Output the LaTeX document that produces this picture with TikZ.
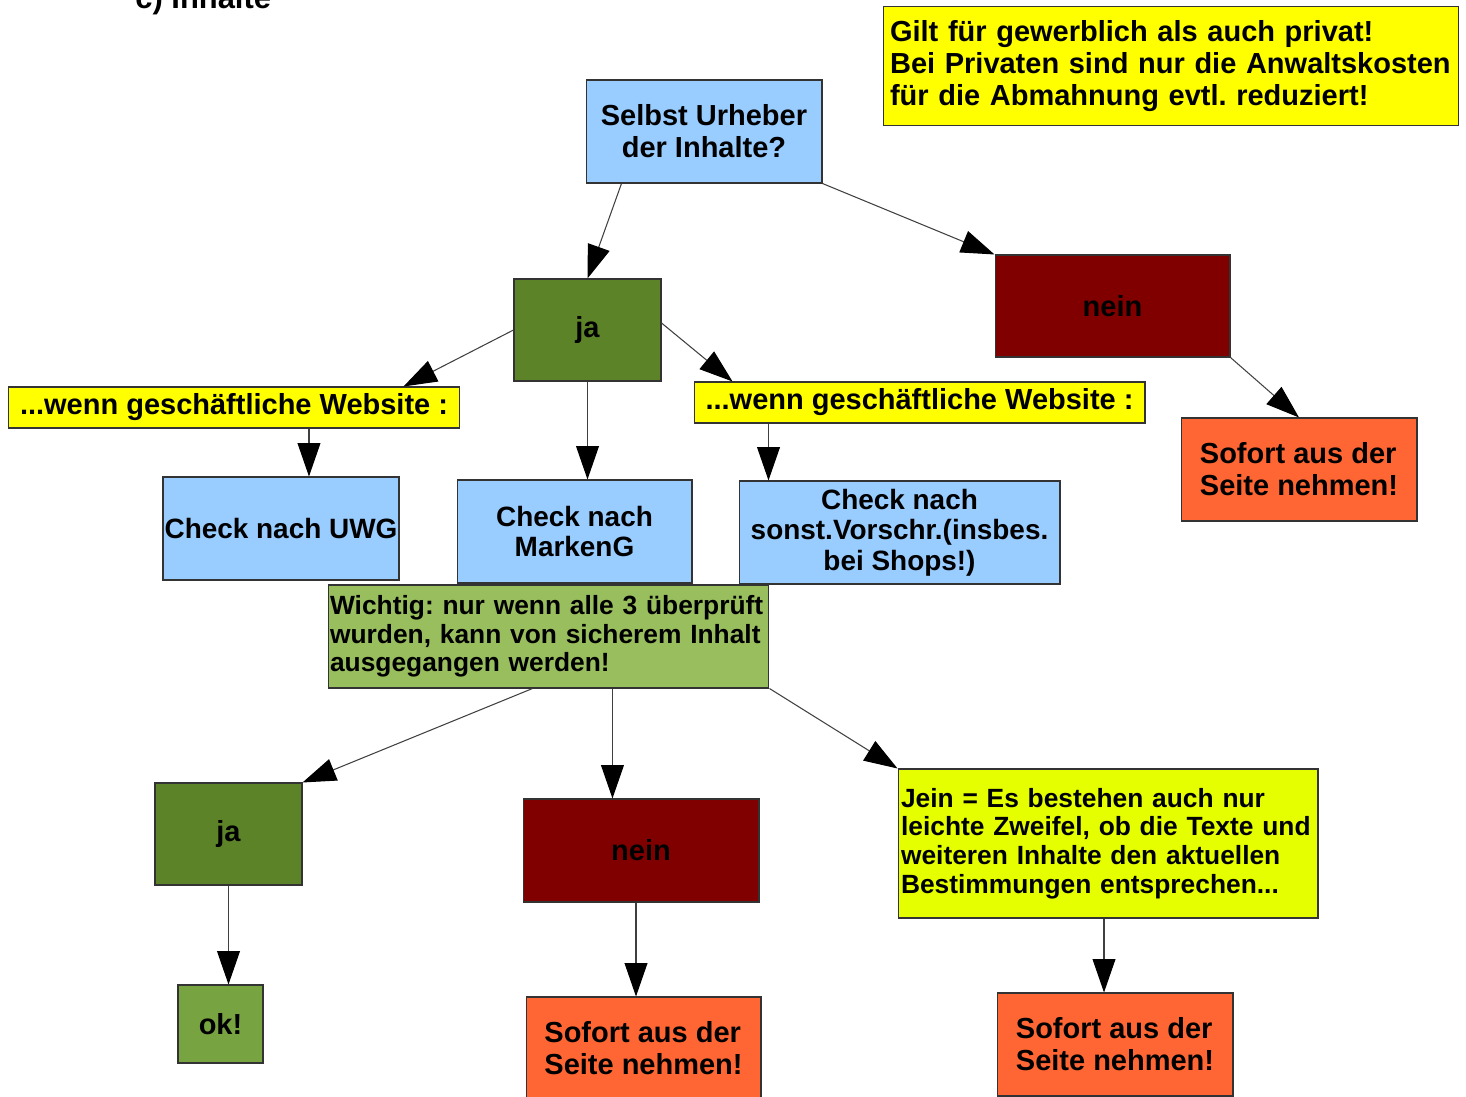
\documentclass[tikz,border=0pt]{standalone}
\usepackage{fontspec}
\setmainfont{Liberation Sans}
\usepackage{tikz}
\usetikzlibrary{arrows.meta}
\definecolor{hellblau}{HTML}{99CCFF}
\definecolor{gelb}{HTML}{FFFF00}
\definecolor{jeingelb}{HTML}{E6FF00}
\definecolor{dunkelgruen}{HTML}{5D8329}
\definecolor{okgruen}{HTML}{77A441}
\definecolor{hellgruen}{HTML}{99BE5E}
\definecolor{dunkelrot}{HTML}{800000}
\definecolor{orangerot}{HTML}{FF6633}
\frenchspacing

\begin{document}
\begin{tikzpicture}[x=0.02cm,y=-0.02cm,
	kasten/.style={draw=black!80,line width=0.6pt,inner sep=0pt,align=center,font=\fontsize{16.5pt}{18.2pt}\selectfont\bfseries},
	mittel/.style={font=\fontsize{15.9pt}{17.3pt}\selectfont\bfseries},
	klein/.style={font=\fontsize{15pt}{16.3pt}\selectfont\bfseries},
	pfeil/.style={draw=black!75,line width=0.6pt,-{Triangle[length=19pt,width=13pt,color=black]}}]
				\useasboundingbox (0,0) rectangle (1466,1097);
				\node[anchor=base west,inner sep=0pt,font=\fontsize{17.6pt}{20pt}\selectfont\bfseries] (titel) at (135,9) {c) Inhalte};
				\node[kasten,fill=gelb,minimum width=11.52cm,minimum height=2.38cm,inner xsep=0.14cm,text width=11.24cm,align=left] (hinweis) at (1171,66) {Gilt für gewerblich als auch privat!\\Bei Privaten sind nur die Anwaltskosten\\für die Abmahnung evtl. reduziert!};
				\node[kasten,fill=hellblau,minimum width=4.72cm,minimum height=2.06cm] (urheber) at (704,131.5) {Selbst Urheber\\der Inhalte?};
				\node[kasten,fill=dunkelgruen,minimum width=2.94cm,minimum height=2.04cm] (ja1) at (587.5,330) {ja};
				\node[kasten,fill=dunkelrot,minimum width=4.7cm,minimum height=2.04cm] (nein1) at (1112.5,306) {nein};
				\node[kasten,fill=orangerot,minimum width=4.72cm,minimum height=2.06cm,align=left] (sofort1) at (1299,469.5) {Sofort aus der\\Seite nehmen!};
				\node[kasten,fill=gelb,minimum width=9.04cm,minimum height=0.82cm] (wenn1) at (234,407.5) {...wenn geschäftliche Website :};
				\node[kasten,fill=gelb,minimum width=9.02cm,minimum height=0.82cm] (wenn2) at (919.5,402.5) {...wenn geschäftliche Website :};
				\node[kasten,mittel,fill=hellblau,minimum width=4.72cm,minimum height=2.06cm] (uwg) at (281,528.5) {Check nach UWG};
				\node[kasten,mittel,fill=hellblau,minimum width=4.7cm,minimum height=2.06cm] (marken) at (574.5,531.5) {Check nach\\MarkenG};
				\node[kasten,mittel,fill=hellblau,minimum width=6.42cm,minimum height=2.06cm] (sonst) at (899.5,532.5) {Check nach\\sonst.Vorschr.(insbes.\\bei Shops!)};
				\node[kasten,klein,fill=hellgruen,minimum width=8.82cm,minimum height=2.06cm,inner xsep=0.04cm,text width=8.74cm,align=left] (wichtig) at (548.5,636.5) {Wichtig: nur wenn alle 3 überprüft\\wurden, kann von sicherem Inhalt\\ausgegangen werden!};
				\node[kasten,fill=dunkelgruen,minimum width=2.94cm,minimum height=2.04cm] (ja2) at (228.5,834) {ja};
				\node[kasten,fill=okgruen,minimum width=1.7cm,minimum height=1.56cm] (ok) at (220.5,1024) {ok!};
				\node[kasten,fill=dunkelrot,minimum width=4.72cm,minimum height=2.06cm] (nein2) at (641,850.5) {nein};
				\node[kasten,fill=orangerot,minimum width=4.7cm,minimum height=2.06cm,align=left] (sofort2) at (643.5,1048.5) {Sofort aus der\\Seite nehmen!};
				\node[kasten,klein,fill=jeingelb,minimum width=8.4cm,minimum height=2.98cm,inner xsep=0.06cm,text width=8.28cm,align=left] (jein) at (1108,843.5) {Jein = Es bestehen auch nur\\leichte Zweifel, ob die Texte und\\weiteren Inhalte den aktuellen\\Bestimmungen entsprechen...};
				\node[kasten,fill=orangerot,minimum width=4.72cm,minimum height=2.06cm,align=left] (sofort3) at (1115,1044.5) {Sofort aus der\\Seite nehmen!};
				\path[pfeil] ([xshift=0.72cm]urheber.south west) -- (ja1.north);
				\path[pfeil] (urheber.south east) -- (nein1.north west);
				\path[pfeil] (ja1.west) -- ([xshift=-1.14cm]wenn1.north east);
				\path[pfeil] ([yshift=0.14cm]ja1.east) -- ([xshift=0.78cm]wenn2.north west);
				\path[pfeil] (ja1.south) -- (ja1.south |- marken.north);
				\path[pfeil] ([xshift=1.5cm]wenn1.south) coordinate (w1) -- (w1 |- uwg.north);
				\path[pfeil] ([xshift=1.5cm]wenn2.south west) coordinate (w2) -- (w2 |- sonst.north);
				\path[pfeil] (nein1.south east) -- (sofort1.north);
				\path[pfeil] ([xshift=4.1cm]wichtig.south west) -- (ja2.north east);
				\path[pfeil] ([xshift=5.7cm]wichtig.south west) coordinate (w3) -- (w3 |- nein2.north);
				\path[pfeil] (wichtig.south east) -- (jein.north west);
				\path[pfeil] (ja2.south) -- (ja2.south |- ok.north);
				\path[pfeil] ([xshift=-0.1cm]nein2.south) coordinate (n2) -- (n2 |- sofort2.north);
				\path[pfeil] ([xshift=-0.08cm]jein.south) coordinate (j1) -- (j1 |- sofort3.north);
			\end{tikzpicture}
\end{document}
